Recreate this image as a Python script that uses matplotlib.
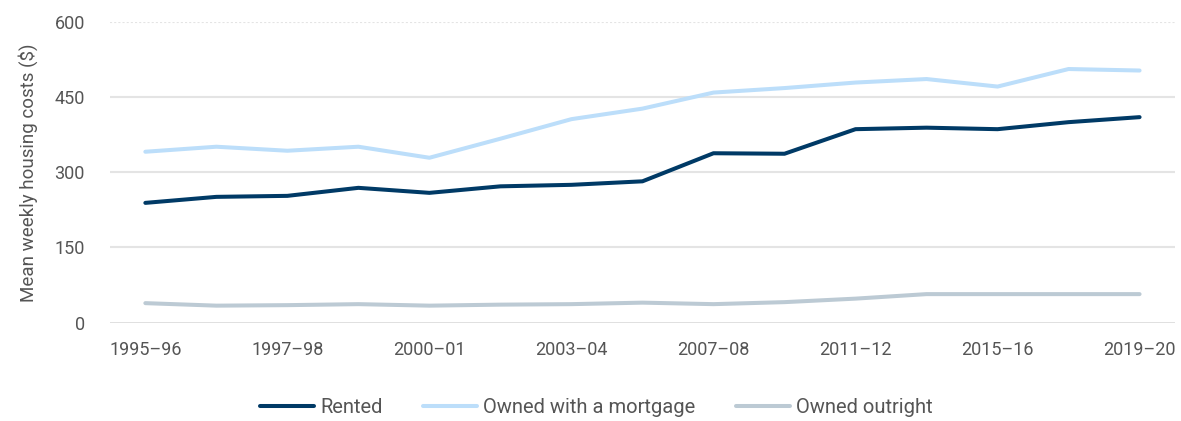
import matplotlib.pyplot as plt

plt.rcParams["font.family"] = ["Roboto", "DejaVu Sans"]

years = ["1995–96", "1996–97", "1997–98", "1999–00", "2000–01", "2002–03", "2003–04",
         "2005–06", "2007–08", "2009–10", "2011–12", "2013–14", "2015–16", "2017–18", "2019–20"]
rented = [239, 251, 253, 269, 259, 272, 275, 282, 338, 337, 386, 389, 386, 400, 410]
mortgage = [341, 351, 343, 351, 329, 367, 406, 427, 459, 468, 479, 486, 471, 506, 503]
outright = [39, 34, 35, 37, 34, 36, 37, 40, 37, 41, 48, 57, 57, 57, 57]
shown_labels = ["1995–96", "1997–98", "2000–01", "2003–04", "2007–08", "2011–12", "2015–16", "2019–20"]

x = list(range(len(years)))

fig = plt.figure(figsize=(11.81, 4.21), dpi=100)
ax = fig.add_axes([0.093, 0.2335, 0.902, 0.7145])

for y in [150, 300, 450]:
    ax.axhline(y, color="#e4e4e4", lw=1.5, zorder=0)
ax.axhline(600, color="#e4e4e4", lw=1.5, ls=(0, (1, 1)), zorder=0)
ax.axhline(0, color="#d6d6d6", lw=1.8, zorder=0)

ax.plot(x, rented, color="#003a66", lw=2.9, label="Rented", solid_capstyle="round")
ax.plot(x, mortgage, color="#bcdefa", lw=2.9, label="Owned with a mortgage", solid_capstyle="round")
ax.plot(x, outright, color="#bccad4", lw=2.9, label="Owned outright", solid_capstyle="round")

ax.set_xlim(-0.5, len(years) - 0.5)
ax.set_ylim(0, 600)
ax.set_yticks([0, 150, 300, 450, 600])
tick_pos = [years.index(lbl) for lbl in shown_labels]
ax.set_xticks(tick_pos)
ax.set_xticklabels(shown_labels)
ax.tick_params(axis="both", length=0, labelsize=13, labelcolor="#555555")
ax.tick_params(axis="x", pad=13)
ax.tick_params(axis="y", pad=18)
for s in ax.spines.values():
    s.set_visible(False)

ax.set_ylabel("Mean weekly housing costs ($)", fontsize=13.5, color="#555555", labelpad=12)

fig.legend(loc="center", bbox_to_anchor=(0.505, 0.031), ncol=3, frameon=False,
           fontsize=14.5, handlelength=2.7, handletextpad=0.3, columnspacing=2.0,
           labelcolor="#555555")

fig.savefig("out.png", dpi=100)
